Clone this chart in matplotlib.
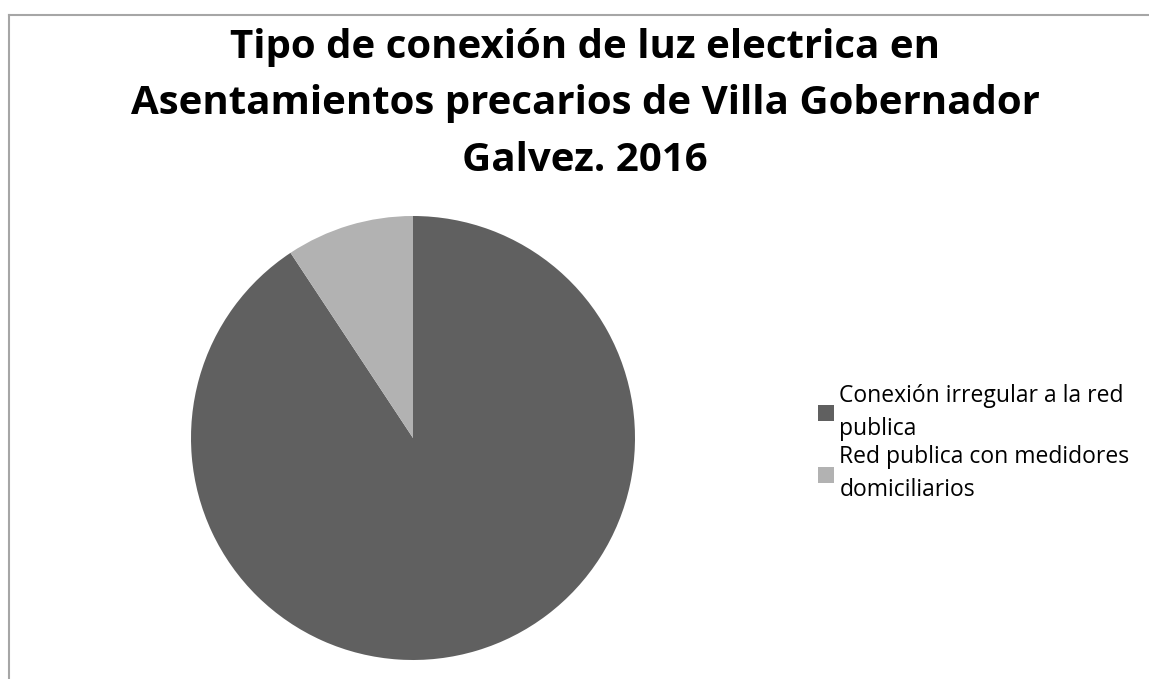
import matplotlib.pyplot as plt
from matplotlib.lines import Line2D

plt.rcParams['font.family'] = ['Open Sans', 'DejaVu Sans']

categorias = ['Conexión irregular a la red\npublica', 'Red publica con medidores\ndomiciliarios']
valores = [90.7, 9.3]
colores = ['#606060', '#b2b2b2']

W, H = 1149, 679
fig = plt.figure(figsize=(W / 100, H / 100), dpi=100)

# marco del grafico (solo bordes izquierdo y superior visibles)
fig.add_artist(Line2D([9 / W, 9 / W], [0, 1 - 15 / H], transform=fig.transFigure, color='#a6a6a6', lw=1.5))
fig.add_artist(Line2D([9 / W, 1], [1 - 15 / H, 1 - 15 / H], transform=fig.transFigure, color='#a6a6a6', lw=1.5))

fig.text(585 / W, 1 - 28 / H, 'Tipo de conexión de luz electrica en\nAsentamientos precarios de Villa Gobernador\nGalvez. 2016',
         ha='center', va='top', fontsize=29, fontweight='bold', linespacing=1.58)

cx, cy, r = 413, 438, 222
ax = fig.add_axes([(cx - r) / W, (H - cy - r) / H, 2 * r / W, 2 * r / H])
wedges, _ = ax.pie(valores, colors=colores, startangle=90, counterclock=False,
                   wedgeprops=dict(linewidth=0))
ax.set_xlim(-1, 1)
ax.set_ylim(-1, 1)

leg = fig.legend(wedges, categorias, loc='center left', bbox_to_anchor=(797 / W, 1 - 443 / H),
                 frameon=False, fontsize=16.5, handlelength=0.7, handleheight=0.7,
                 handletextpad=0.25, labelspacing=0.2)
for t in leg.get_texts():
    t.set_linespacing(1.5)

fig.savefig('out.png', dpi=100)
